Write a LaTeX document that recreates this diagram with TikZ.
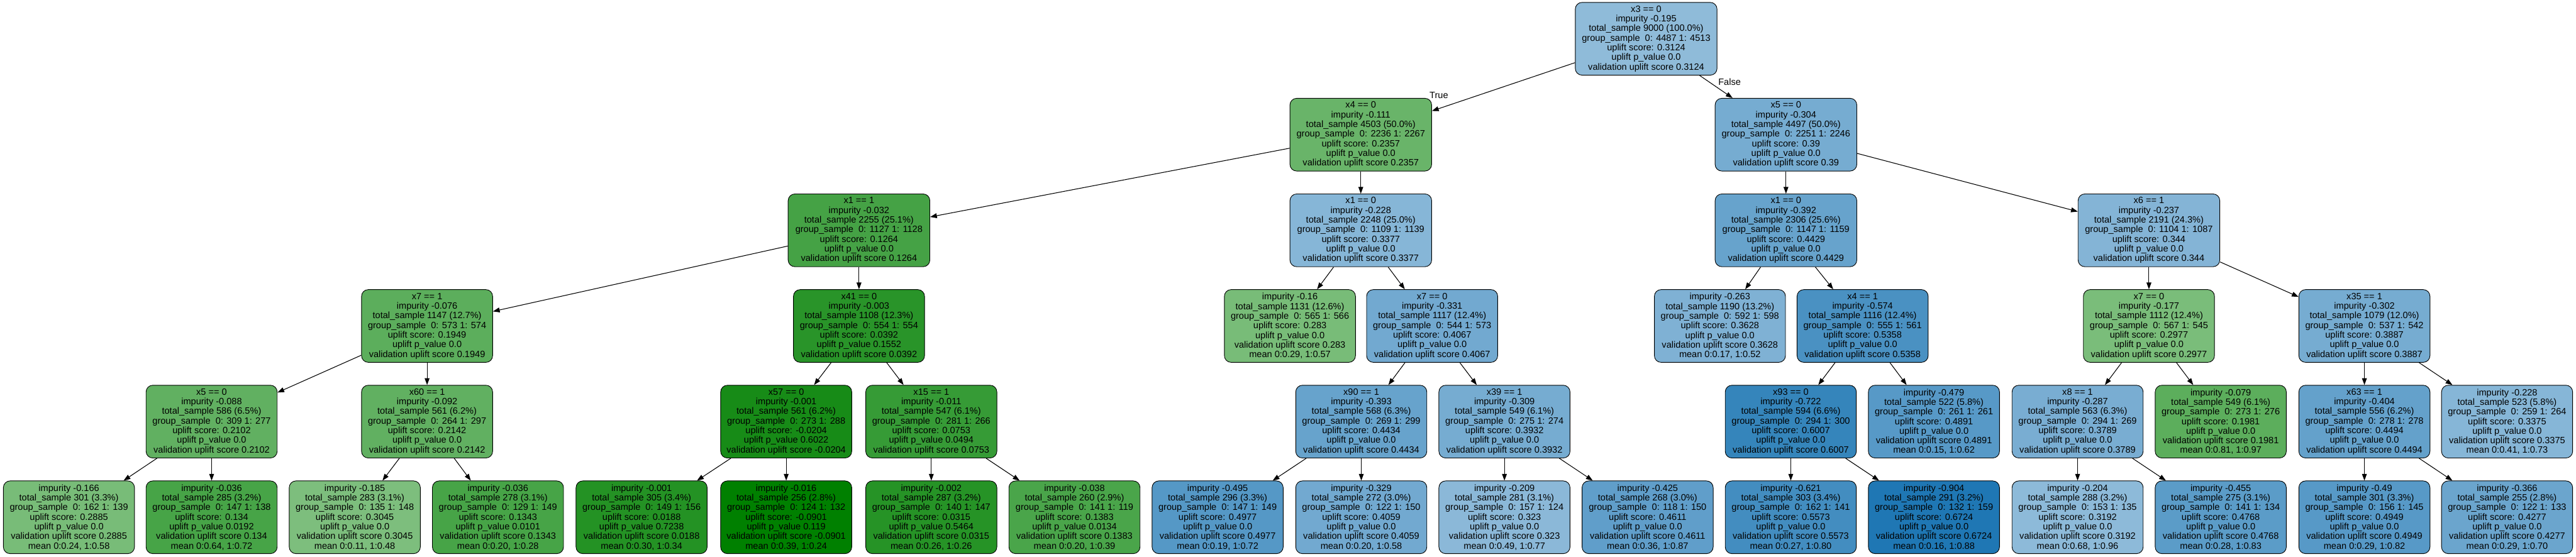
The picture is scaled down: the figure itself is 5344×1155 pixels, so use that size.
\documentclass[tikz,border=0pt]{standalone}
\usepackage{fontspec}
\setmainfont{Liberation Sans}
\usetikzlibrary{arrows.meta}
\definecolor{tb}{RGB}{31,119,180}
\definecolor{tg}{RGB}{0,128,0}
\newcommand\itx[7]{#1\\impurity #2\\total\_sample #3\\group\_sample\ \ 0: #4 1: #5\\uplift score: #6\\uplift p\_value #7\\validation uplift score #6}
\newcommand\ltx[7]{impurity #1\\total\_sample #2\\group\_sample\ \ 0: #3 1: #4\\uplift score: #5\\uplift p\_value #6\\validation uplift score #5\\mean #7}
\begin{document}
\begin{tikzpicture}[x=1pt,y=-1pt,
  tn/.style={draw=black, line width=1.2pt, rounded corners=14pt, align=center,
    font=\fontsize{19}{20}\selectfont, inner sep=4pt, minimum height=151pt, minimum width=272pt},
  wide/.style={minimum width=294pt},
  edge/.style={line width=1.4pt, -{Triangle[length=14pt,width=10pt]}},
  elab/.style={font=\fontsize{19}{20}\selectfont, inner sep=0pt}]
\useasboundingbox (0,0) rectangle (5344,1155);
% level 0
\node[tn,wide,fill=tb!50] (r) at (3415,80.5) {\itx{x3 == 0}{-0.195}{9000 (100.0\%)}{4487}{4513}{0.3124}{0.0}};
% level 1
\node[tn,wide,fill=tg!59] (n1) at (2823,279.5) {\itx{x4 == 0}{-0.111}{4503 (50.0\%)}{2236}{2267}{0.2357}{0.0}};
\node[tn,wide,fill=tb!61] (n2) at (3705,279.5) {\itx{x5 == 0}{-0.304}{4497 (50.0\%)}{2251}{2246}{0.39}{0.0}};
% level 2
\node[tn,wide,fill=tg!73] (n3) at (1782,478) {\itx{x1 == 1}{-0.032}{2255 (25.1\%)}{1127}{1128}{0.1264}{0.0}};
\node[tn,wide,fill=tb!54] (n4) at (2823,478) {\itx{x1 == 0}{-0.228}{2248 (25.0\%)}{1109}{1139}{0.3377}{0.0}};
\node[tn,wide,fill=tb!68] (n5) at (3705,478) {\itx{x1 == 0}{-0.392}{2306 (25.6\%)}{1147}{1159}{0.4429}{0.0}};
\node[tn,wide,fill=tb!55] (n6) at (4458,478) {\itx{x6 == 1}{-0.237}{2191 (24.3\%)}{1104}{1087}{0.344}{0.0}};
% level 3
\node[tn,fill=tg!64] (n7) at (886,676.5) {\itx{x7 == 1}{-0.076}{1147 (12.7\%)}{573}{574}{0.1949}{0.0}};
\node[tn,fill=tg!84] (n8) at (1782,676.5) {\itx{x41 == 0}{-0.003}{1108 (12.3\%)}{554}{554}{0.0392}{0.1552}};
\node[tn,fill=tg!53] (n9) at (2676,676.5) {\ltx{-0.16}{1131 (12.6\%)}{565}{566}{0.283}{0.0}{0:0.29, 1:0.57}};
\node[tn,fill=tb!63] (n10) at (2971,676.5) {\itx{x7 == 0}{-0.331}{1117 (12.4\%)}{544}{573}{0.4067}{0.0}};
\node[tn,fill=tb!57] (n11) at (3568,676.5) {\ltx{-0.263}{1190 (13.2\%)}{592}{598}{0.3628}{0.0}{0:0.17, 1:0.52}};
\node[tn,fill=tb!81] (n12) at (3864,676.5) {\itx{x4 == 1}{-0.574}{1116 (12.4\%)}{555}{561}{0.5358}{0.0}};
\node[tn,fill=tg!52] (n13) at (4458,676.5) {\itx{x7 == 0}{-0.177}{1112 (12.4\%)}{567}{545}{0.2977}{0.0}};
\node[tn,fill=tb!61] (n14) at (4905,676.5) {\itx{x35 == 1}{-0.302}{1079 (12.0\%)}{537}{542}{0.3887}{0.0}};
% level 4
\node[tn,fill=tg!62] (n15) at (439,875) {\itx{x5 == 0}{-0.088}{586 (6.5\%)}{309}{277}{0.2102}{0.0}};
\node[tn,fill=tg!62] (n16) at (886,875) {\itx{x60 == 1}{-0.092}{561 (6.2\%)}{264}{297}{0.2142}{0.0}};
\node[tn,fill=tg!91] (n17) at (1631,875) {\itx{x57 == 0}{-0.001}{561 (6.2\%)}{273}{288}{-0.0204}{0.6022}};
\node[tn,fill=tg!79] (n18) at (1932,875) {\itx{x15 == 1}{-0.011}{547 (6.1\%)}{281}{266}{0.0753}{0.0494}};
\node[tn,fill=tb!68] (n19) at (2824,875) {\itx{x90 == 1}{-0.393}{568 (6.3\%)}{269}{299}{0.4434}{0.0}};
\node[tn,fill=tb!61] (n20) at (3121,875) {\itx{x39 == 1}{-0.309}{549 (6.1\%)}{275}{274}{0.3932}{0.0}};
\node[tn,fill=tb!90] (n21) at (3715,875) {\itx{x93 == 0}{-0.722}{594 (6.6\%)}{294}{300}{0.6007}{0.0}};
\node[tn,fill=tb!75] (n22) at (4012,875) {\ltx{-0.479}{522 (5.8\%)}{261}{261}{0.4891}{0.0}{0:0.15, 1:0.62}};
\node[tn,fill=tb!60] (n23) at (4310,875) {\itx{x8 == 1}{-0.287}{563 (6.3\%)}{294}{269}{0.3789}{0.0}};
\node[tn,fill=tg!64] (n24) at (4607,875) {\ltx{-0.079}{549 (6.1\%)}{273}{276}{0.1981}{0.0}{0:0.81, 1:0.97}};
\node[tn,fill=tb!69] (n25) at (4905,875) {\itx{x63 == 1}{-0.404}{556 (6.2\%)}{278}{278}{0.4494}{0.0}};
\node[tn,fill=tb!54] (n26) at (5201,875) {\ltx{-0.228}{523 (5.8\%)}{259}{264}{0.3375}{0.0}{0:0.41, 1:0.73}};
% level 5
\node[tn,fill=tg!53] (l1) at (143,1073.5) {\ltx{-0.166}{301 (3.3\%)}{162}{139}{0.2885}{0.0}{0:0.24, 1:0.58}};
\node[tn,fill=tg!72] (l2) at (439,1073.5) {\ltx{-0.036}{285 (3.2\%)}{147}{138}{0.134}{0.0192}{0:0.64, 1:0.72}};
\node[tn,fill=tg!51] (l3) at (736,1073.5) {\ltx{-0.185}{283 (3.1\%)}{135}{148}{0.3045}{0.0}{0:0.11, 1:0.48}};
\node[tn,fill=tg!72] (l4) at (1033,1073.5) {\ltx{-0.036}{278 (3.1\%)}{129}{149}{0.1343}{0.0101}{0:0.20, 1:0.28}};
\node[tn,fill=tg!86] (l5) at (1331,1073.5) {\ltx{-0.001}{305 (3.4\%)}{149}{156}{0.0188}{0.7238}{0:0.30, 1:0.34}};
\node[tn,fill=tg] (l6) at (1631,1073.5) {\ltx{-0.016}{256 (2.8\%)}{124}{132}{-0.0901}{0.119}{0:0.39, 1:0.24}};
\node[tn,fill=tg!85] (l7) at (1932,1073.5) {\ltx{-0.002}{287 (3.2\%)}{140}{147}{0.0315}{0.5464}{0:0.26, 1:0.26}};
\node[tn,fill=tg!71] (l8) at (2229,1073.5) {\ltx{-0.038}{260 (2.9\%)}{141}{119}{0.1383}{0.0134}{0:0.20, 1:0.39}};
\node[tn,fill=tb!76] (l9) at (2526,1073.5) {\ltx{-0.495}{296 (3.3\%)}{147}{149}{0.4977}{0.0}{0:0.19, 1:0.72}};
\node[tn,fill=tb!63] (l10) at (2824,1073.5) {\ltx{-0.329}{272 (3.0\%)}{122}{150}{0.4059}{0.0}{0:0.20, 1:0.58}};
\node[tn,fill=tb!52] (l11) at (3121,1073.5) {\ltx{-0.209}{281 (3.1\%)}{157}{124}{0.323}{0.0}{0:0.49, 1:0.77}};
\node[tn,fill=tb!71] (l12) at (3418,1073.5) {\ltx{-0.425}{268 (3.0\%)}{118}{150}{0.4611}{0.0}{0:0.36, 1:0.87}};
\node[tn,fill=tb!84] (l13) at (3715,1073.5) {\ltx{-0.621}{303 (3.4\%)}{162}{141}{0.5573}{0.0}{0:0.27, 1:0.80}};
\node[tn,fill=tb] (l14) at (4012,1073.5) {\ltx{-0.904}{291 (3.2\%)}{132}{159}{0.6724}{0.0}{0:0.16, 1:0.88}};
\node[tn,fill=tb!51] (l15) at (4310,1073.5) {\ltx{-0.204}{288 (3.2\%)}{153}{135}{0.3192}{0.0}{0:0.68, 1:0.96}};
\node[tn,fill=tb!73] (l16) at (4607,1073.5) {\ltx{-0.455}{275 (3.1\%)}{141}{134}{0.4768}{0.0}{0:0.28, 1:0.83}};
\node[tn,fill=tb!75] (l17) at (4905,1073.5) {\ltx{-0.49}{301 (3.3\%)}{156}{145}{0.4949}{0.0}{0:0.29, 1:0.82}};
\node[tn,fill=tb!66] (l18) at (5201,1073.5) {\ltx{-0.366}{255 (2.8\%)}{122}{133}{0.4277}{0.0}{0:0.29, 1:0.70}};
% edge labels
\node[elab] (tl) at (2985,198) {True};
\node[elab] (fl) at (3588,170) {False};
% edges
\draw[edge] (r) -- (n1);
\draw[edge] (r) -- (n2);
\draw[edge] (n1) -- (n3);
\draw[edge] (n1) -- (n4);
\draw[edge] (n2) -- (n5);
\draw[edge] (n2) -- (n6);
\draw[edge] (n3) -- (n7);
\draw[edge] (n3) -- (n8);
\draw[edge] (n4) -- (n9);
\draw[edge] (n4) -- (n10);
\draw[edge] (n5) -- (n11);
\draw[edge] (n5) -- (n12);
\draw[edge] (n6) -- (n13);
\draw[edge] (n6) -- (n14);
\draw[edge] (n7) -- (n15);
\draw[edge] (n7) -- (n16);
\draw[edge] (n8) -- (n17);
\draw[edge] (n8) -- (n18);
\draw[edge] (n10) -- (n19);
\draw[edge] (n10) -- (n20);
\draw[edge] (n12) -- (n21);
\draw[edge] (n12) -- (n22);
\draw[edge] (n13) -- (n23);
\draw[edge] (n13) -- (n24);
\draw[edge] (n14) -- (n25);
\draw[edge] (n14) -- (n26);
\draw[edge] (n15) -- (l1);
\draw[edge] (n15) -- (l2);
\draw[edge] (n16) -- (l3);
\draw[edge] (n16) -- (l4);
\draw[edge] (n17) -- (l5);
\draw[edge] (n17) -- (l6);
\draw[edge] (n18) -- (l7);
\draw[edge] (n18) -- (l8);
\draw[edge] (n19) -- (l9);
\draw[edge] (n19) -- (l10);
\draw[edge] (n20) -- (l11);
\draw[edge] (n20) -- (l12);
\draw[edge] (n21) -- (l13);
\draw[edge] (n21) -- (l14);
\draw[edge] (n23) -- (l15);
\draw[edge] (n23) -- (l16);
\draw[edge] (n25) -- (l17);
\draw[edge] (n25) -- (l18);
\end{tikzpicture}
\end{document}
